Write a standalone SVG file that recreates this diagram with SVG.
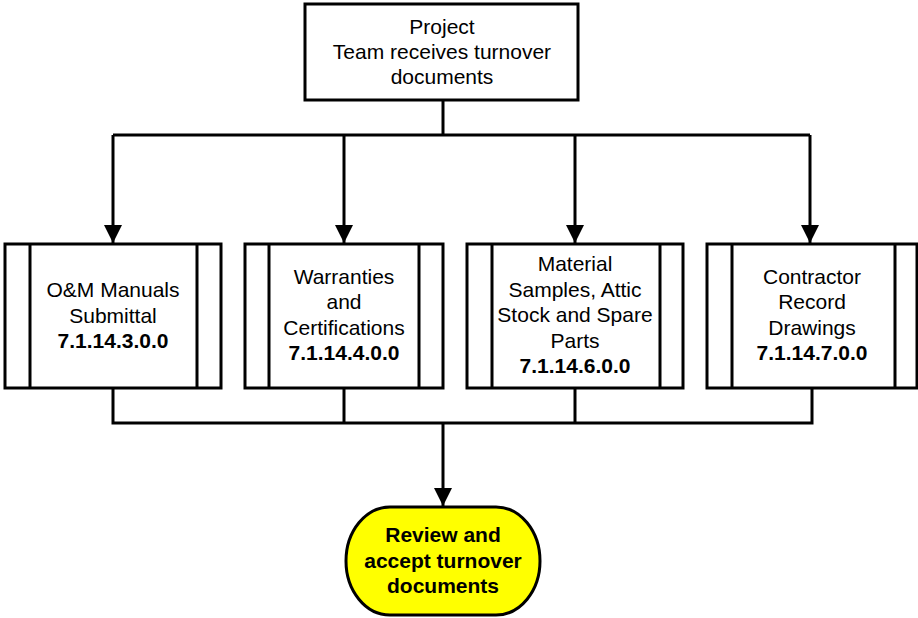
<svg xmlns="http://www.w3.org/2000/svg" width="918" height="618" viewBox="0 0 918 618">
<defs>
<style>
.box{fill:#fff;stroke:#000;stroke-width:3}
.ln{fill:none;stroke:#000;stroke-width:3}
.t{font-family:"Liberation Sans",Arial,sans-serif;font-size:21px;text-anchor:middle;fill:#000}
.b{font-weight:bold}
.term{fill:#ffff00;stroke:#000;stroke-width:3}
</style>
<marker id="arr" markerWidth="20" markerHeight="18" refX="20" refY="10" orient="auto" markerUnits="userSpaceOnUse" viewBox="0 0 20 20">
<path d="M0,0 L20,10 L0,20 Z" fill="#000"/>
</marker>
</defs>
<g id="connectors">
<path class="ln" d="M443,100 V135"/>
<path class="ln" d="M113,135 H810"/>
<path class="ln" d="M113,135 V243" marker-end="url(#arr)"/>
<path class="ln" d="M344,135 V243" marker-end="url(#arr)"/>
<path class="ln" d="M575,135 V243" marker-end="url(#arr)"/>
<path class="ln" d="M810,135 V243" marker-end="url(#arr)"/>
<path class="ln" d="M113,388 V423 H812 V388"/>
<path class="ln" d="M344,388 V423"/>
<path class="ln" d="M575,388 V423"/>
<path class="ln" d="M443,423 V506" marker-end="url(#arr)"/>
</g>
<g id="top">
<rect class="box" x="305" y="4" width="273" height="96"/>
<text class="t" x="442" y="34">Project</text>
<text class="t" x="442" y="59">Team receives turnover</text>
<text class="t" x="442" y="84">documents</text>
</g>
<g id="p1">
<rect class="box" x="5" y="244" width="216" height="144"/>
<path class="ln" d="M30,244 V388 M197,244 V388"/>
<text class="t" x="113" y="297">O&amp;M Manuals</text>
<text class="t" x="113" y="323">Submittal</text>
<text class="t b" x="113" y="348">7.1.14.3.0.0</text>
</g>
<g id="p2">
<rect class="box" x="245" y="244" width="198" height="144"/>
<path class="ln" d="M269,244 V388 M419,244 V388"/>
<text class="t" x="344" y="284">Warranties</text>
<text class="t" x="344" y="309">and</text>
<text class="t" x="344" y="335">Certifications</text>
<text class="t b" x="344" y="360">7.1.14.4.0.0</text>
</g>
<g id="p3">
<rect class="box" x="467" y="244" width="216" height="144"/>
<path class="ln" d="M492,244 V388 M660,244 V388"/>
<text class="t" x="575" y="271">Material</text>
<text class="t" x="575" y="297">Samples, Attic</text>
<text class="t" x="575" y="322">Stock and Spare</text>
<text class="t" x="575" y="348">Parts</text>
<text class="t b" x="575" y="373">7.1.14.6.0.0</text>
</g>
<g id="p4">
<rect class="box" x="707" y="244" width="210" height="144"/>
<path class="ln" d="M732,244 V388 M895,244 V388"/>
<text class="t" x="812" y="284">Contractor</text>
<text class="t" x="812" y="309">Record</text>
<text class="t" x="812" y="335">Drawings</text>
<text class="t b" x="812" y="360">7.1.14.7.0.0</text>
</g>
<g id="end">
<rect class="term" x="346" y="507" width="194" height="108" rx="44" ry="54"/>
<text class="t b" x="443" y="542">Review and</text>
<text class="t b" x="443" y="568">accept turnover</text>
<text class="t b" x="443" y="593">documents</text>
</g>
</svg>
